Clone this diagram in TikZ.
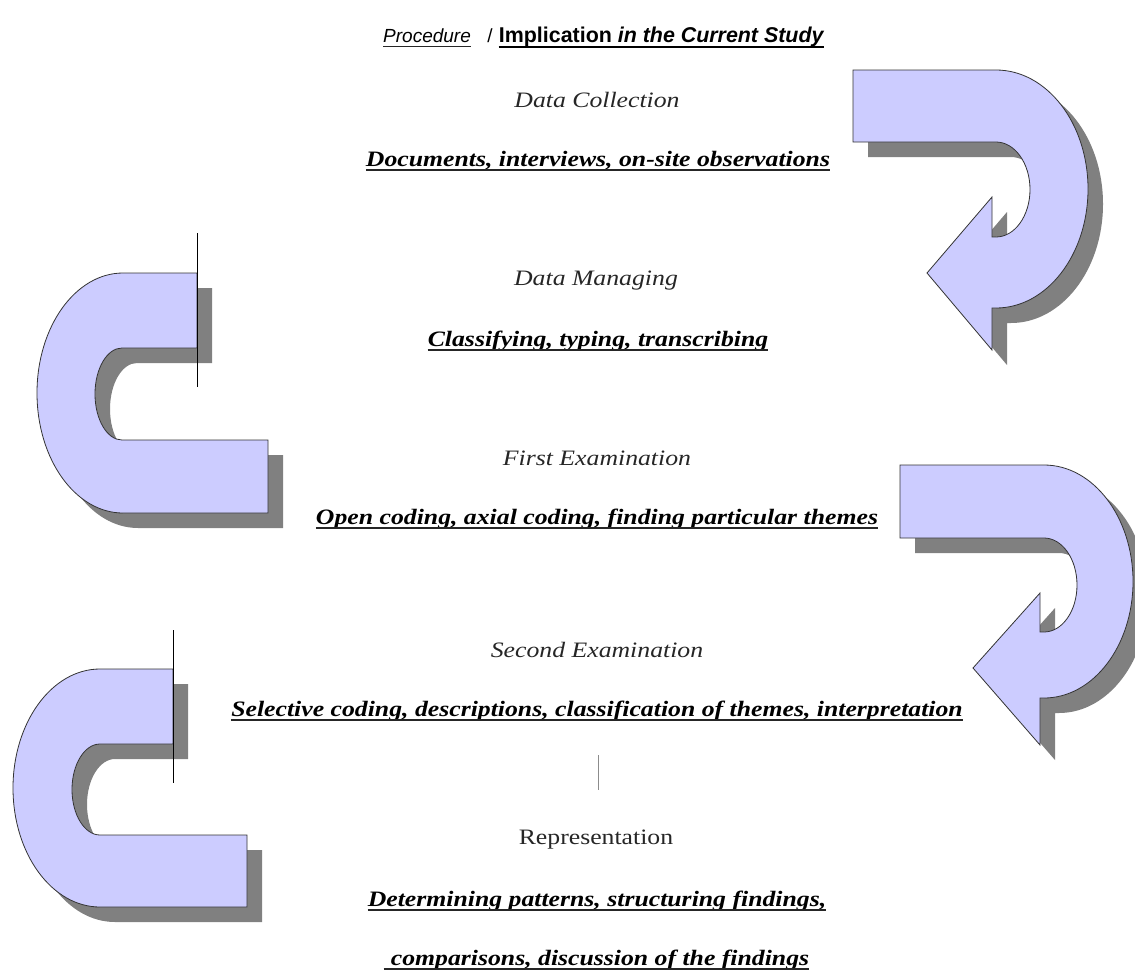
\documentclass[tikz,border=0pt]{standalone}
\usepackage{fontspec}
\setmainfont{Liberation Serif}
\newfontfamily\titlefont{Liberation Sans}
\newfontfamily\widefont[FakeStretch=1.17]{Liberation Serif}
\usetikzlibrary{positioning}
\definecolor{turnfill}{HTML}{CCCCFF}
\definecolor{turnshadow}{HTML}{808080}

\begin{document}
\begin{tikzpicture}[x=1pt,y=-1pt,
    turnface/.style={fill=turnfill,draw=black!80,line width=0.8pt,line join=miter},
    turnshade/.style={fill=turnshadow,shift={(15,15)}},
    stage/.style={font=\widefont\itshape\fontsize{22}{26}\selectfont,text=black!85,inner sep=0pt},
    detail/.style={font=\widefont\bfseries\itshape\fontsize{22}{26}\selectfont,inner sep=0pt,anchor=base},
    heading/.style={font=\titlefont\fontsize{19}{23}\selectfont,inner sep=0pt},
    uline/.style={draw=black!85,line width=1.6pt},
    tick/.style={draw=black,line width=0.8pt}]
  \useasboundingbox (0,0) rectangle (1135,972);
  % first turn (top right)
  \fill[turnshade] (853,70) -- (996,70) arc[start angle=-90,end angle=90,x radius=92,y radius=119] -- (992,308) -- (992,350) -- (927,273) -- (992,197) -- (992,237) -- (996,237) arc[start angle=90,end angle=-90,x radius=34,y radius=47.5] -- (853,142) -- cycle;
  \draw[turnface] (853,70) -- (996,70) arc[start angle=-90,end angle=90,x radius=92,y radius=119] -- (992,308) -- (992,350) -- (927,273) -- (992,197) -- (992,237) -- (996,237) arc[start angle=90,end angle=-90,x radius=34,y radius=47.5] -- (853,142) -- cycle;
  % second turn (left)
  \fill[turnshade] (197,273) -- (123,273) arc[start angle=-90,end angle=-270,x radius=86,y radius=120] -- (268,513) -- (268,440) -- (122,440) arc[start angle=90,end angle=270,x radius=27,y radius=46] -- (197,348) -- cycle;
  \draw[turnface] (197,273) -- (123,273) arc[start angle=-90,end angle=-270,x radius=86,y radius=120] -- (268,513) -- (268,440) -- (122,440) arc[start angle=90,end angle=270,x radius=27,y radius=46] -- (197,348) -- cycle;
  \coordinate (cutA top) at (197,233);
  \coordinate (cutA bot) at (197,387);
  \draw[tick] (cutA top) -- (cutA bot);
  % third turn (right)
  \fill[turnshade] (900,465) -- (1044,465) arc[start angle=-90,end angle=90,x radius=89,y radius=116.5] -- (1040,698) -- (1040,745) -- (973,668) -- (1040,593) -- (1040,632) -- (1044,632) arc[start angle=90,end angle=-90,x radius=33,y radius=47] -- (900,538) -- cycle;
  \draw[turnface] (900,465) -- (1044,465) arc[start angle=-90,end angle=90,x radius=89,y radius=116.5] -- (1040,698) -- (1040,745) -- (973,668) -- (1040,593) -- (1040,632) -- (1044,632) arc[start angle=90,end angle=-90,x radius=33,y radius=47] -- (900,538) -- cycle;
  % fourth turn (bottom left)
  \fill[turnshade] (173,669) -- (100,669) arc[start angle=-90,end angle=-270,x radius=87,y radius=119] -- (247,907) -- (247,835) -- (100,835) arc[start angle=90,end angle=270,x radius=28,y radius=45.5] -- (173,744) -- cycle;
  \draw[turnface] (173,669) -- (100,669) arc[start angle=-90,end angle=-270,x radius=87,y radius=119] -- (247,907) -- (247,835) -- (100,835) arc[start angle=90,end angle=270,x radius=28,y radius=45.5] -- (173,744) -- cycle;
  \coordinate (cutB top) at (173,630);
  \coordinate (cutB bot) at (173,783);
  \draw[tick] (cutB top) -- (cutB bot);
  % title
  \node[heading,anchor=base west] (proc) at (383,42) {\itshape Procedure};
  \node[heading,base right=16pt of proc] (slash) {/};
  \node[heading,font=\titlefont\fontsize{21.4}{25}\selectfont,base right=6pt of slash] (impl) {\bfseries Implication \itshape in the Current Study};
  \draw[uline,line width=1pt] ([yshift=-4pt]proc.base west) -- ([yshift=-4pt]proc.base east);
  \draw[uline,black,line width=2.4pt] ([yshift=-5pt]impl.base west) -- ([yshift=-5pt]impl.base east);
  % label the steps
  \node[stage] (collect) at (597,100) {Data Collection};
  \node[detail] (collect txt) at (598,166) {Documents, interviews, on-site observations};
  \node[stage] (manage) at (596,281) {Data Managing};
  \node[detail] (manage txt) at (598,346) {Classifying, typing, transcribing};
  \node[stage] (first) at (597,458) {First Examination};
  \node[detail] (first txt) at (597,524) {Open coding, axial coding, finding particular themes};
  \node[stage] (second) at (597,650) {Second Examination};
  \node[detail] (second txt) at (597,716) {Selective coding, descriptions, classification of themes, interpretation};
  \coordinate (gap top) at (598,755);
  \coordinate (gap bot) at (598,790);
  \draw[black!45,line width=0.8pt] (gap top) -- (gap bot);
  \node[font=\widefont\fontsize{22}{26}\selectfont,text=black!85,inner sep=0pt] (repr) at (596,840) {Representation};
  \node[detail] (repr txt) at (597,906) {Determining patterns, structuring findings,};
  \node[detail] (repr txt2) at (600,965) {comparisons, discussion of the findings};
  % underline the details
  \foreach \n in {collect txt,manage txt,first txt,second txt,repr txt}
    \draw[uline] ([yshift=-4pt]\n.base west) -- ([yshift=-4pt]\n.base east);
  \draw[uline] ([xshift=-7pt,yshift=-4pt]repr txt2.base west) -- ([yshift=-4pt]repr txt2.base east);
\end{tikzpicture}
\end{document}
